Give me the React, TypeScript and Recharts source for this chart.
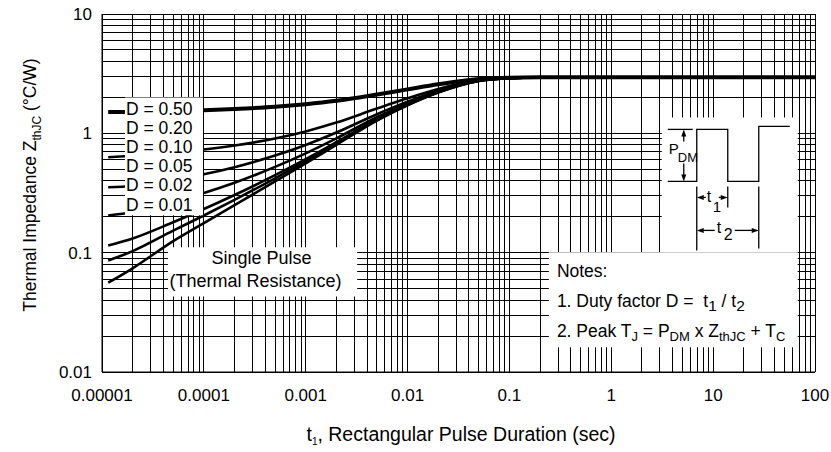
import React from "react";
import { LineChart, Line, XAxis, YAxis, CartesianGrid, ReferenceArea, Label } from "recharts";

const FONT = "'Liberation Sans', Arial, Helvetica, sans-serif";
const INK = "#000";

// pulse duration (s) where the curves were read
const PULSE_T = [1.15e-5, 2e-5, 5e-5, 1e-4, 2e-4, 5e-4, 1e-3, 2e-3, 5e-3, 1e-2, 2e-2, 5e-2, 0.1, 0.2, 0.5, 1, 10, 100];

// Z thJC (°C/W) for each duty factor
const Z_D50 = [1.51, 1.512, 1.538, 1.564, 1.6, 1.67, 1.755, 1.875, 2.115, 2.335, 2.575, 2.85, 2.925, 2.945, 2.95, 2.95, 2.95, 2.95];
const Z_D20 = [0.63, 0.649, 0.69, 0.732, 0.79, 0.906, 1.038, 1.23, 1.614, 1.966, 2.35, 2.79, 2.91, 2.94, 2.95, 2.95, 2.95, 2.95];
const Z_D10 = [0.353, 0.362, 0.408, 0.454, 0.52, 0.651, 0.799, 1.015, 1.447, 1.843, 2.275, 2.77, 2.905, 2.94, 2.95, 2.95, 2.95, 2.95];
const Z_D05 = [0.205, 0.218, 0.266, 0.316, 0.385, 0.523, 0.68, 0.908, 1.364, 1.782, 2.237, 2.76, 2.9, 2.94, 2.95, 2.95, 2.95, 2.95];
const Z_D02 = [0.115, 0.1315, 0.18, 0.232, 0.304, 0.446, 0.608, 0.843, 1.313, 1.745, 2.215, 2.754, 2.9, 2.94, 2.95, 2.95, 2.95, 2.95];
const Z_D01 = [0.086, 0.103, 0.153, 0.205, 0.277, 0.42, 0.584, 0.822, 1.297, 1.732, 2.207, 2.752, 2.9, 2.94, 2.95, 2.95, 2.95, 2.95];
const Z_SINGLE = [0.056, 0.074, 0.125, 0.177, 0.25, 0.395, 0.56, 0.8, 1.28, 1.72, 2.2, 2.75, 2.9, 2.94, 2.95, 2.95, 2.95, 2.95];

const X_DECADES = [1e-5, 1e-4, 1e-3, 0.01, 0.1, 1, 10, 100];
const X_DECADE_LABELS = ["0.00001", "0.0001", "0.001", "0.01", "0.1", "1", "10", "100"];
const Y_DECADES = [0.01, 0.1, 1, 10];
const Y_DECADE_LABELS = ["0.01", "0.1", "1", "10"];

const LEGEND_LABELS = ["D = 0.50", "D = 0.20", "D = 0.10", "D = 0.05", "D = 0.02", "D = 0.01"];

const rows = PULSE_T.map((t, i) => ({
  t,
  d50: Z_D50[i],
  d20: Z_D20[i],
  d10: Z_D10[i],
  d05: Z_D05[i],
  d02: Z_D02[i],
  d01: Z_D01[i],
  single: Z_SINGLE[i],
}));

const SERIES = [
  { key: "d50", width: 4 },
  { key: "d20", width: 2.6 },
  { key: "d10", width: 2.6 },
  { key: "d05", width: 2.6 },
  { key: "d02", width: 2.6 },
  { key: "d01", width: 2.6 },
  { key: "single", width: 2.6 },
];

// 1..9 lines inside every decade
function logGrid(decades: number[]) {
  const out: number[] = [];
  decades.forEach((d, i) => {
    if (i === decades.length - 1) {
      out.push(d);
      return;
    }
    for (let k = 1; k <= 9; k++) out.push(+(k * d).toPrecision(6));
  });
  return out;
}
const X_GRID = logGrid(X_DECADES);
const Y_GRID = logGrid(Y_DECADES);

const decadeLabel = (decades: number[], labels: string[]) => (v: number) => {
  const i = decades.findIndex((d) => Math.abs(v / d - 1) < 1e-6);
  return i >= 0 ? labels[i] : "";
};

// white annotation boxes, in data units
const LEGEND_BOX = { x1: 1.68e-5, x2: 9.8e-5, y1: 0.2056, y2: 2.0 };
const SINGLE_BOX = { x1: 4.44e-5, x2: 3.2e-3, y1: 0.043, y2: 0.111 };
const NOTES_BOX = { x1: 0.244, x2: 67.6, y1: 0.0161, y2: 0.1006 };
const PULSE_BOX = { x1: 3.13, x2: 67.6, y1: 0.1006, y2: 1.36 };

const txt = { fontFamily: FONT, fill: INK };

function LegendText(props: any) {
  const vb = props.viewBox;
  if (!vb) return null;
  return (
    <g>
      {LEGEND_LABELS.map((s, i) => (
        <text key={s} x={vb.x + 1} y={vb.y + 17.6 + i * 19.1} fontSize={17.5} {...txt}>
          {s}
        </text>
      ))}
    </g>
  );
}

function SingleText(props: any) {
  const vb = props.viewBox;
  if (!vb) return null;
  return (
    <g>
      <text x={vb.x + 93.5} y={vb.y + 16.5} textAnchor="middle" fontSize={18} {...txt}>
        Single Pulse
      </text>
      <text x={vb.x + 87.5} y={vb.y + 39.7} textAnchor="middle" fontSize={18} {...txt}>
        (Thermal Resistance)
      </text>
    </g>
  );
}

function NotesText(props: any) {
  const vb = props.viewBox;
  if (!vb) return null;
  const x = vb.x + 8;
  const sub = 13;
  return (
    <g fontSize={17.5} {...txt}>
      <text x={x} y={vb.y + 24.7}>Notes:</text>
      <text x={x} y={vb.y + 54.7}>
        {"1. Duty factor D = \u00a0t"}
        <tspan fontSize={15.5} dy={4}>1</tspan>
        <tspan dy={-4}> / t</tspan>
        <tspan fontSize={15.5} dy={4}>2</tspan>
      </text>
      <text x={x} y={vb.y + 84.7}>
        2. Peak T
        <tspan fontSize={sub} dy={4}>J</tspan>
        <tspan dy={-4}> = P</tspan>
        <tspan fontSize={sub} dy={4}>DM</tspan>
        <tspan dy={-4}> x Z</tspan>
        <tspan fontSize={sub} dy={4}>thJC</tspan>
        <tspan dy={-4}> + T</tspan>
        <tspan fontSize={sub} dy={4}>C</tspan>
      </text>
    </g>
  );
}

function PulseSketch(props: any) {
  const vb = props.viewBox;
  if (!vb) return null;
  const ox = vb.x;
  const oy = vb.y;
  const p = (pts: number[][]) => pts.map(([a, b]) => `${ox + a},${oy + b}`).join(" ");
  const ln = (a: number, b: number, c: number, d: number, k: string) => (
    <line key={k} x1={ox + a} y1={oy + b} x2={ox + c} y2={oy + d} stroke={INK} strokeWidth={1.3} />
  );
  return (
    <g>
      <polyline
        points={p([[6, 64], [35, 64], [35, 12], [66, 12], [66, 64], [97, 64], [97, 9], [128, 9]])}
        fill="none"
        stroke={INK}
        strokeWidth={1.3}
      />
      {ln(6, 12, 31, 12, "pt")}
      {ln(22, 18, 22, 24, "pa")}
      {ln(22, 46, 22, 58, "pb")}
      <polygon points={p([[22, 12], [19.5, 19], [24.5, 19]])} fill={INK} />
      <polygon points={p([[22, 64], [19.5, 57], [24.5, 57]])} fill={INK} />
      <text x={ox + 7} y={oy + 37} fontSize={15} {...txt}>P</text>
      <text x={ox + 16} y={oy + 44.7} fontSize={13} {...txt}>DM</text>

      {ln(35, 69, 35, 133, "e1")}
      {ln(66, 69, 66, 90, "e2")}
      {ln(97, 69, 97, 131, "e3")}

      {ln(41, 80, 44, 80, "a1")}
      {ln(57, 80, 60, 80, "a2")}
      <polygon points={p([[35, 80], [42, 77.5], [42, 82.5]])} fill={INK} />
      <polygon points={p([[66, 80], [59, 77.5], [59, 82.5]])} fill={INK} />
      <text x={ox + 45} y={oy + 84.7} fontSize={16} {...txt}>t</text>
      <text x={ox + 51} y={oy + 94.7} fontSize={15} {...txt}>1</text>

      {ln(41, 113, 53, 113, "b1")}
      {ln(73, 113, 91, 113, "b2")}
      <polygon points={p([[35, 113], [42, 110.5], [42, 115.5]])} fill={INK} />
      <polygon points={p([[97, 113], [90, 110.5], [90, 115.5]])} fill={INK} />
      <text x={ox + 55} y={oy + 116} fontSize={16} {...txt}>t</text>
      <text x={ox + 62} y={oy + 123} fontSize={16} {...txt}>2</text>
    </g>
  );
}

function XTitle(props: any) {
  const vb = props.viewBox || { x: 102, y: 372, width: 713, height: 80 };
  return (
    <text x={vb.x + vb.width / 2 + 2.5} y={vb.y + 69} textAnchor="middle" fontSize={19.5} {...txt}>
      t<tspan fontSize={10} dy={4}>1</tspan>
      <tspan dy={-4}>, Rectangular Pulse Duration (sec)</tspan>
    </text>
  );
}

function YTitle(props: any) {
  const vb = props.viewBox || { x: 0, y: 14, width: 102, height: 358 };
  const x = vb.x + 36;
  const y = vb.y + 171;
  return (
    <text x={x} y={y} transform={`rotate(-90 ${x} ${y})`} textAnchor="middle" fontSize={17.5} {...txt}>
      Thermal Impedance Z<tspan fontSize={12} dy={5}>thJC</tspan>
      <tspan dy={-5}> (°C/W)</tspan>
    </text>
  );
}

export default function App() {
  const tick = { fill: INK, fontSize: 17, fontFamily: FONT };
  return (
    <div style={{ position: "absolute", left: 0, top: 0, width: 831, height: 452, background: "#fff" }}>
      <LineChart width={831} height={452} data={rows} margin={{ top: 14, right: 16, bottom: 0, left: 0 }}>
        <CartesianGrid
          stroke="#000"
          strokeWidth={1}
          shapeRendering="crispEdges"
          verticalValues={X_GRID}
          horizontalValues={Y_GRID}
        />
        <XAxis
          dataKey="t"
          type="number"
          scale="log"
          domain={[1e-5, 100]}
          allowDataOverflow
          ticks={X_DECADES}
          interval={0}
          tickFormatter={decadeLabel(X_DECADES, X_DECADE_LABELS)}
          height={80}
          tickLine={false}
          tickSize={6}
          tickMargin={11}
          axisLine={{ stroke: INK }}
          tick={tick}
          label={<Label content={XTitle} />}
        />
        <YAxis
          type="number"
          scale="log"
          domain={[0.01, 10]}
          allowDataOverflow
          ticks={Y_DECADES}
          interval={0}
          tickFormatter={decadeLabel(Y_DECADES, Y_DECADE_LABELS)}
          width={102}
          tickLine={false}
          tickSize={6}
          tickMargin={4}
          axisLine={{ stroke: INK }}
          tick={tick}
          label={<Label content={YTitle} />}
        />
        {SERIES.map((s) => (
          <Line
            key={s.key}
            dataKey={s.key}
            type="monotone"
            stroke={INK}
            strokeWidth={s.width}
            dot={false}
            activeDot={false}
            isAnimationActive={false}
          />
        ))}
        <ReferenceArea {...LEGEND_BOX} fill="#fff" fillOpacity={1} stroke="none" ifOverflow="visible" zIndex={450} label={<Label content={LegendText} />} />
        <ReferenceArea {...SINGLE_BOX} fill="#fff" fillOpacity={1} stroke="none" ifOverflow="visible" zIndex={450} label={<Label content={SingleText} />} />
        <ReferenceArea {...NOTES_BOX} fill="#fff" fillOpacity={1} stroke="none" ifOverflow="visible" zIndex={450} label={<Label content={NotesText} />} />
        <ReferenceArea {...PULSE_BOX} fill="#fff" fillOpacity={1} stroke="none" ifOverflow="visible" zIndex={450} label={<Label content={PulseSketch} />} />
      </LineChart>
    </div>
  );
}
